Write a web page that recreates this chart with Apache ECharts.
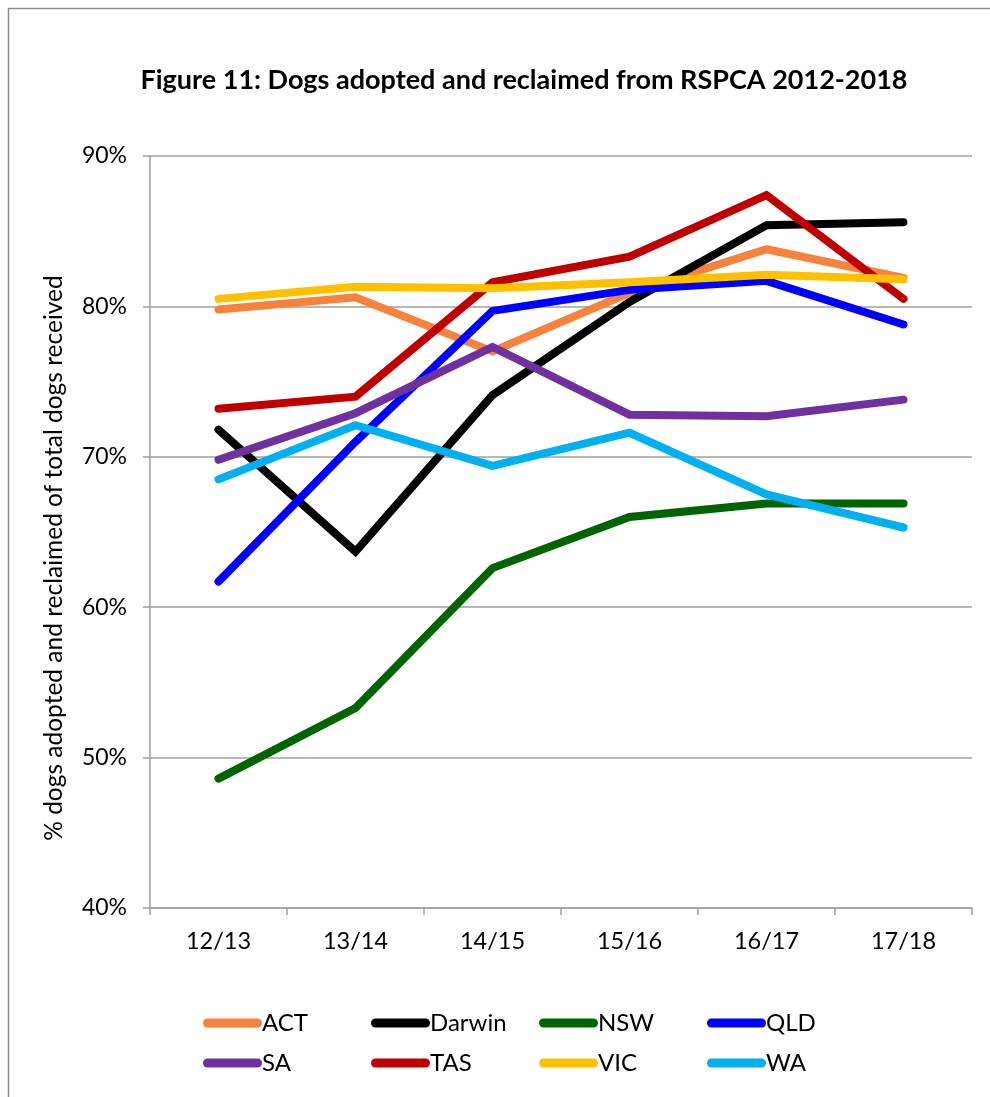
<!DOCTYPE html>
<html>
<head>
<meta charset="utf-8">
<script src="https://cdn.jsdelivr.net/npm/echarts@6/dist/echarts.min.js"></script>
<style>html,body{margin:0;padding:0;background:#fff}#c{width:990px;height:1097px}</style>
</head>
<body>
<div id="c"></div>
<script>
const categories = ['12/13', '13/14', '14/15', '15/16', '16/17', '17/18'];
const seriesNames = ['ACT', 'Darwin', 'NSW', 'QLD', 'SA', 'TAS', 'VIC', 'WA'];
const ACT    = [79.8, 80.6, 77.0, 80.9, 83.8, 81.9];
const Darwin = [71.8, 63.7, 74.1, 80.3, 85.4, 85.6];
const NSW    = [48.6, 53.3, 62.6, 66.0, 66.9, 66.9];
const QLD    = [61.7, 71.0, 79.7, 81.1, 81.7, 78.8];
const SA     = [69.8, 72.9, 77.3, 72.8, 72.7, 73.8];
const TAS    = [73.2, 74.0, 81.6, 83.3, 87.4, 80.5];
const VIC    = [80.5, 81.3, 81.2, 81.6, 82.1, 81.8];
const WA     = [68.5, 72.1, 69.4, 71.6, 67.5, 65.3];
const yTicks = [40, 50, 60, 70, 80, 90];
const values = [ACT, Darwin, NSW, QLD, SA, TAS, VIC, WA];
const colors = ['#F6823C', '#000000', '#006400', '#0000FF', '#7030A0', '#C00000', '#FFC000', '#00B0F0'];

const NARROW = 'Lato, "Noto Sans", sans-serif';
const chart = echarts.init(document.getElementById('c'), null, {renderer: 'canvas'});
const pill = 'path://M4.5,0 H54.5 A4.5,4.5 0 0 1 54.5,9 H4.5 A4.5,4.5 0 0 1 4.5,0 Z';
const legends = seriesNames.map((n, i) => ({
  data: [n],
  left: 203 + (i % 4) * 168,
  top: 1011 + Math.floor(i / 4) * 40,
  icon: pill,
  itemWidth: 59,
  itemHeight: 9,
  itemGap: 0,
  padding: 0,
  textStyle: {fontFamily: NARROW, fontSize: 24, color: '#000', padding: [0, 0, 0, -5]}
}));

chart.setOption({
  animation: false,
  color: colors,
  title: {
    text: 'Figure 11: Dogs adopted and reclaimed from RSPCA 2012-2018',
    left: 519, top: 62, textAlign: 'center',
    textStyle: {fontFamily: NARROW, fontWeight: 'bold', fontSize: 27, color: '#000'}
  },
  graphic: [{
    type: 'rect', shape: {x: 8.5, y: 8.5, width: 1000, height: 1100},
    style: {fill: 'none', stroke: '#8c8c8c', lineWidth: 1.5}, silent: true
  }],
  legend: legends,
  grid: {left: 150, right: 18, top: 156, bottom: 189},
  xAxis: {
    type: 'category', data: categories, boundaryGap: true,
    axisLine: {lineStyle: {color: '#a0a0a0', width: 1.5}},
    axisTick: {show: true, length: 7, lineStyle: {color: '#a0a0a0', width: 1.5}},
    axisLabel: {fontFamily: NARROW, fontSize: 23.5, color: '#000', margin: 21}
  },
  yAxis: {
    type: 'value', min: yTicks[0], max: yTicks[yTicks.length - 1], interval: 10,
    name: '% dogs adopted and reclaimed of total dogs received',
    nameLocation: 'middle', nameGap: 83, nameRotate: 90,
    nameTextStyle: {fontFamily: NARROW, fontSize: 24.5, color: '#000', padding: [0, 52, 0, 0]},
    axisLine: {show: true, lineStyle: {color: '#a0a0a0', width: 1.5}},
    axisTick: {show: true, length: 7, lineStyle: {color: '#a0a0a0', width: 1.5}},
    splitLine: {lineStyle: {color: '#a0a0a0', width: 1.5}},
    axisLabel: {formatter: '{value}%', fontFamily: NARROW, fontSize: 23, color: '#000', margin: 23}
  },
  series: seriesNames.map((n, i) => ({
    name: n, type: 'line', data: values[i],
    symbol: 'none', smooth: false,
    lineStyle: {width: 8, color: colors[i], cap: 'round', join: 'miter'},
    itemStyle: {color: colors[i]}
  }))
});
</script>
</body>
</html>
